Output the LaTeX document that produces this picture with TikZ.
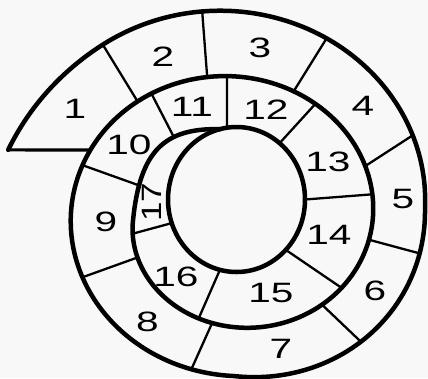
\documentclass[tikz,border=0pt]{standalone}
\usepackage{fontspec}
\setmainfont{Liberation Sans}
\usepackage{graphicx}
\definecolor{bgc}{RGB}{248,248,248}
\newcommand{\widetext}[1]{\scalebox{1.45}[1]{#1}}
\begin{document}
\begin{tikzpicture}[x=1pt,y=-1pt,
  declare function={
    sd(\t)=10.5*max(0,(53-\t)/38.6)*max(0,(53-\t)/38.6);
    sc(\t)=6*max(0,cos(2*(\t-225)))*(\t>180)*(\t<270);
    sx(\t)=230+5*(\t/360)-(221-57*(\t/360)+sd(\t)+sc(\t))*cos(\t);
    sy(\t)=203.5+8.5*(\t/360)-(208.9-57*(\t/360)+sd(\t)+sc(\t))*sin(\t);
    ex(\a)=236.5+68.5*cos(\a);
    ey(\a)=199.5-72.5*sin(\a);
  },
  spiral/.style={line width=4.5pt, line join=round, line cap=round},
  divider/.style={line width=2.3pt, line cap=round},
  baseline/.style={line width=3.2pt, line cap=round},
  lab/.style={inner sep=0pt, font=\fontsize{28}{28}\selectfont}
]
\useasboundingbox (0,0) rectangle (428,378);
\fill[bgc] (0,0) rectangle (428,378);

% points on the spiral (outer ends / inner ends of the dividers)
\coordinate (start) at ({sx(14.4)},{sy(14.4)});
\coordinate (base)  at ({sx(385)},{sy(385)});
\coordinate (d12o) at ({sx(53)},{sy(53)});     \coordinate (d12i) at ({sx(411)},{sy(411)});
\coordinate (d23o) at ({sx(82)},{sy(82)});     \coordinate (d23i) at ({sx(439)},{sy(439)});
\coordinate (d34o) at ({sx(118)},{sy(118)});   \coordinate (d34i) at ({sx(473)},{sy(473)});
\coordinate (d45o) at ({sx(157)},{sy(157)});   \coordinate (d45i) at ({sx(517)},{sy(517)});
\coordinate (d56o) at ({sx(194.5)},{sy(194.5)}); \coordinate (d56i) at ({sx(551)},{sy(551)});
\coordinate (d67o) at ({sx(228)},{sy(228)});   \coordinate (d67i) at ({sx(589)},{sy(589)});
\coordinate (d78o) at ({sx(284)},{sy(284)});   \coordinate (d78i) at ({sx(643)},{sy(643)});
\coordinate (d89o) at ({sx(335)},{sy(335)});   \coordinate (d89i) at ({sx(697.6)},{sy(697.6)});
\coordinate (d910o) at ({sx(378.5)},{sy(378.5)});
\coordinate (d1011o) at ({sx(417)},{sy(417)});
\coordinate (d1112o) at ({sx(446.5)},{sy(446.5)}); \coordinate (d1112i) at ({ex(98)},{ey(98)});
\coordinate (d1213o) at ({sx(483)},{sy(483)});     \coordinate (d1213i) at ({ex(51)},{ey(51)});
\coordinate (d1314o) at ({sx(530)},{sy(530)});     \coordinate (d1314i) at ({ex(0)},{ey(0)});
\coordinate (d1415o) at ({sx(577)},{sy(577)});     \coordinate (d1415i) at ({ex(-44)},{ey(-44)});
\coordinate (d1516o) at ({sx(650)},{sy(650)});     \coordinate (d1516i) at ({ex(-104)},{ey(-104)});
\coordinate (d1617o) at ({sx(712)},{sy(712)});     \coordinate (d1617i) at ({ex(199)},{ey(199)});
\coordinate (tip) at ({ex(104)},{ey(104)});

% dividers
\foreach \d in {d12,d23,d34,d45,d56,d67,d78,d89,d1112,d1213,d1314,d1415,d1516,d1617}
  \draw[divider] (\d o) -- (\d i);

% the spiral with its inner end
\draw[spiral] plot[variable=\t, domain=14.4:720, samples=420] ({sx(\t)},{sy(\t)})
  .. controls (140,150) and (165,128) ..
  coordinate[pos=0.19] (d910i) coordinate[pos=0.66] (d1011i) (tip);
\draw[divider] (d910o) -- (d910i);
\draw[divider] (d1011o) -- (d1011i);
% inner ring
\draw[spiral] (236.5,199.5) ellipse [x radius=68.5pt, y radius=72.5pt];
% bottom edge of segment 1
\draw[baseline] (start) -- (base);

% labels
\node[lab] (n1)  at (75,109)    {\widetext{1}};
\node[lab] (n2)  at (163,57)    {\widetext{2}};
\node[lab] (n3)  at (260,47.5)  {\widetext{3}};
\node[lab] (n4)  at (363,106)   {\widetext{4}};
\node[lab] (n5)  at (403,199)   {\widetext{5}};
\node[lab] (n6)  at (375,291)   {\widetext{6}};
\node[lab] (n7)  at (281,349)   {\widetext{7}};
\node[lab] (n8)  at (147.5,322) {\widetext{8}};
\node[lab] (n9)  at (106,221.5) {\widetext{9}};
\node[lab] (n10) at (129,145)   {\widetext{10}};
\node[lab] (n11) at (192,107)   {\widetext{11}};
\node[lab] (n12) at (266,110)   {\widetext{12}};
\node[lab] (n13) at (328,162)   {\widetext{13}};
\node[lab] (n14) at (329,235)   {\widetext{14}};
\node[lab] (n15) at (271,293)   {\widetext{15}};
\node[lab] (n16) at (176,277)   {\widetext{16}};
\node[lab, rotate=90] (n17) at (151.5,202) {\scalebox{1.25}[1]{17}};
\end{tikzpicture}
\end{document}
